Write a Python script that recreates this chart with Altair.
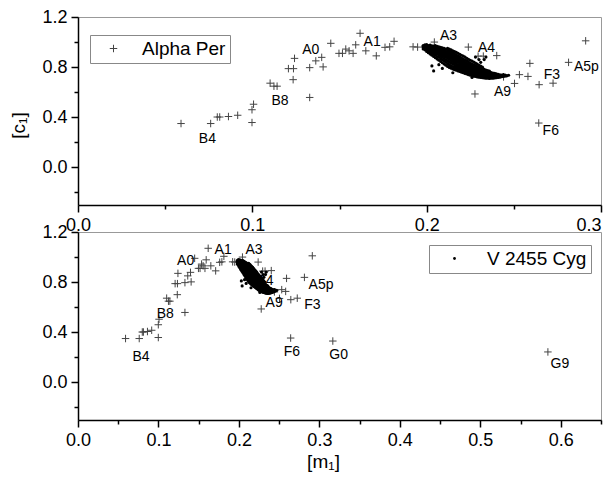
import altair as alt
import pandas as pd

# ---- Alpha Per (plus markers) ----
star_m = [0.0591, 0.0761, 0.0799, 0.0813, 0.0863, 0.0916, 0.0998, 0.0998, 0.1007, 0.1102,
          0.1124, 0.1142, 0.1207, 0.1236, 0.1242, 0.1234, 0.1329, 0.1329, 0.1364, 0.1398,
          0.1406, 0.1450, 0.1497, 0.1517, 0.1536, 0.1555, 0.1578, 0.1593, 0.1618, 0.1651,
          0.1711, 0.1761, 0.1788, 0.1813, 0.1922, 0.1948, 0.2044, 0.2239, 0.2295, 0.2325,
          0.2402, 0.2441, 0.2277, 0.2504, 0.2532, 0.2581, 0.2592, 0.2645, 0.2725, 0.2814,
          0.2912, 0.2643, 0.3167, 0.5840]
star_c = [0.350, 0.350, 0.402, 0.402, 0.406, 0.416, 0.358, 0.460, 0.504, 0.672,
          0.648, 0.648, 0.788, 0.788, 0.870, 0.700, 0.796, 0.558, 0.850, 0.878,
          0.802, 0.990, 0.910, 0.910, 0.944, 0.930, 0.910, 0.978, 1.070, 0.930,
          0.890, 0.958, 0.962, 1.006, 0.962, 0.960, 1.000, 0.960, 0.888, 0.888,
          0.892, 0.722, 0.586, 0.670, 0.740, 0.726, 0.830, 0.660, 0.672, 0.838,
          1.010, 0.354, 0.330, 0.243]

# ---- V 2455 Cyg (small dots), read column by column ----
cyg_rows = [
    (0.198, [0.945, 0.958, 0.966, 0.972]),
    (0.199, [0.938, 0.952, 0.962, 0.970, 0.978]),
    (0.200, [0.925, 0.940, 0.950, 0.958, 0.968, 0.980]),
    (0.201, [0.915, 0.932, 0.945, 0.955, 0.962, 0.972]),
    (0.202, [0.905, 0.922, 0.936, 0.948, 0.958, 0.966, 0.975]),
    (0.203, [0.895, 0.915, 0.930, 0.942, 0.952, 0.962, 0.970, 0.810]),
    (0.204, [0.770, 0.885, 0.905, 0.922, 0.936, 0.948, 0.958, 0.968]),
    (0.205, [0.875, 0.895, 0.912, 0.928, 0.940, 0.952, 0.962, 0.972]),
    (0.206, [0.865, 0.885, 0.905, 0.920, 0.934, 0.946, 0.958, 0.966]),
    (0.207, [0.855, 0.878, 0.896, 0.912, 0.926, 0.940, 0.952, 0.962, 0.820]),
    (0.208, [0.845, 0.868, 0.888, 0.904, 0.918, 0.932, 0.946, 0.958]),
    (0.209, [0.835, 0.858, 0.878, 0.896, 0.910, 0.925, 0.940, 0.954, 0.790]),
    (0.210, [0.825, 0.848, 0.868, 0.886, 0.902, 0.918, 0.934, 0.950]),
    (0.211, [0.815, 0.838, 0.858, 0.878, 0.894, 0.910, 0.926, 0.944]),
    (0.212, [0.805, 0.828, 0.850, 0.870, 0.886, 0.902, 0.918, 0.936, 0.950]),
    (0.213, [0.798, 0.820, 0.842, 0.862, 0.878, 0.894, 0.910, 0.928, 0.945]),
    (0.214, [0.792, 0.812, 0.834, 0.852, 0.870, 0.886, 0.902, 0.920, 0.938]),
    (0.215, [0.786, 0.805, 0.826, 0.845, 0.862, 0.878, 0.894, 0.912, 0.930, 0.755]),
    (0.216, [0.780, 0.798, 0.818, 0.836, 0.854, 0.870, 0.886, 0.904, 0.925]),
    (0.217, [0.775, 0.792, 0.810, 0.828, 0.846, 0.862, 0.878, 0.896, 0.918]),
    (0.218, [0.770, 0.786, 0.802, 0.820, 0.838, 0.854, 0.870, 0.888, 0.910]),
    (0.219, [0.765, 0.780, 0.796, 0.812, 0.830, 0.846, 0.862, 0.880, 0.902]),
    (0.220, [0.760, 0.774, 0.790, 0.805, 0.822, 0.838, 0.855, 0.872, 0.895]),
    (0.221, [0.755, 0.768, 0.784, 0.798, 0.814, 0.830, 0.846, 0.864, 0.888]),
    (0.222, [0.750, 0.763, 0.778, 0.792, 0.806, 0.822, 0.838, 0.856, 0.880]),
    (0.223, [0.745, 0.758, 0.772, 0.786, 0.800, 0.815, 0.830, 0.848, 0.870]),
    (0.224, [0.740, 0.753, 0.766, 0.780, 0.794, 0.808, 0.822, 0.840, 0.862]),
    (0.225, [0.736, 0.748, 0.760, 0.774, 0.788, 0.801, 0.815, 0.832, 0.855]),
    (0.226, [0.732, 0.744, 0.756, 0.768, 0.782, 0.795, 0.808, 0.824, 0.848, 0.718]),
    (0.227, [0.728, 0.740, 0.752, 0.764, 0.776, 0.789, 0.802, 0.818, 0.840]),
    (0.228, [0.725, 0.736, 0.748, 0.759, 0.771, 0.783, 0.796, 0.812, 0.832, 0.880]),
    (0.229, [0.722, 0.733, 0.744, 0.755, 0.766, 0.778, 0.790, 0.805, 0.825]),
    (0.230, [0.719, 0.730, 0.740, 0.751, 0.762, 0.773, 0.785, 0.798, 0.815, 0.860]),
    (0.231, [0.717, 0.727, 0.737, 0.747, 0.758, 0.768, 0.780, 0.792, 0.808, 0.838]),
    (0.232, [0.715, 0.725, 0.734, 0.744, 0.754, 0.764, 0.775, 0.787, 0.800]),
    (0.233, [0.713, 0.722, 0.731, 0.741, 0.750, 0.760, 0.771, 0.782, 0.860]),
    (0.234, [0.712, 0.720, 0.729, 0.738, 0.747, 0.756, 0.766, 0.777, 0.880]),
    (0.235, [0.711, 0.719, 0.727, 0.736, 0.744, 0.753, 0.762, 0.772]),
    (0.236, [0.710, 0.718, 0.726, 0.734, 0.742, 0.750, 0.759, 0.768]),
    (0.237, [0.711, 0.718, 0.725, 0.733, 0.740, 0.748, 0.756]),
    (0.238, [0.712, 0.719, 0.726, 0.732, 0.739, 0.746, 0.753]),
    (0.239, [0.714, 0.720, 0.727, 0.733, 0.739, 0.745, 0.751]),
    (0.240, [0.716, 0.722, 0.728, 0.734, 0.740, 0.746]),
    (0.241, [0.718, 0.724, 0.730, 0.736, 0.742]),
    (0.242, [0.720, 0.727, 0.733, 0.739]),
    (0.243, [0.723, 0.730, 0.736]),
    (0.244, [0.726, 0.733, 0.740]),
    (0.245, [0.729, 0.736]),
    (0.246, [0.732]),
    (0.247, [0.735]),
]
cyg_m = [m for m, cs in cyg_rows for _ in cs]
cyg_c = [c for _, cs in cyg_rows for c in cs]

# ---- spectral-type labels (position of text in each panel) ----
lab_top_text = ["B4", "B8", "A0", "A1", "A3", "A4", "A9", "F3", "A5p", "F6"]
lab_top_m = [0.0742, 0.1159, 0.1335, 0.1687, 0.2125, 0.2343, 0.2435, 0.2718, 0.2916, 0.2712]
lab_top_c = [0.230, 0.530, 0.936, 1.000, 1.050, 0.952, 0.604, 0.738, 0.802, 0.290]

lab_bot_text = ["B4", "B8", "A0", "A1", "A3", "A4", "A9", "F6", "F3", "A5p", "G0", "G9"]
lab_bot_m = [0.0784, 0.1084, 0.1338, 0.1804, 0.2188, 0.2325, 0.2438, 0.2659, 0.2913, 0.3020, 0.3240, 0.5990]
lab_bot_c = [0.202, 0.544, 0.970, 1.056, 1.056, 0.808, 0.632, 0.246, 0.620, 0.776, 0.218, 0.150]

x_ticks_top = [0.0, 0.05, 0.1, 0.15, 0.2, 0.25, 0.3]
x_ticks_bot = [0.0, 0.05, 0.1, 0.15, 0.2, 0.25, 0.3, 0.35, 0.4, 0.45, 0.5, 0.55, 0.6, 0.65]
y_ticks_major = [0.0, 0.4, 0.8, 1.2]
y_ticks_minor = [-0.2, 0.2, 0.6, 1.0]

stars = pd.DataFrame({"m": star_m, "c": star_c, "series": "Alpha Per"})
cyg = pd.DataFrame({"m": cyg_m, "c": cyg_c, "series": "V 2455 Cyg"})
lab_top = pd.DataFrame({"label": lab_top_text, "m": lab_top_m, "c": lab_top_c})
lab_bot = pd.DataFrame({"label": lab_bot_text, "m": lab_bot_m, "c": lab_bot_c})

FONT = "Liberation Sans"
PLUS = "M-1,0L1,0M0,-1L0,1"
STAR_COLOR = "#444444"
DOT_SIZE = 10
W, H = 523, 188

x_major = "round(datum.value*100) % 10 == 0"


def x_axis(vals, xmax, title=None):
    kw = dict(values=vals, labelExpr=f"({x_major}) ? format(datum.value, '.1f') : ''",
              tickSize={"condition": {"test": x_major, "value": 7}, "value": 4},
              labelAlign={"condition": {"test": f"datum.value >= {xmax - 0.001}", "value": "right"},
                          "value": "center"},
              grid=False, labelFlush=False, labelOverlap=False)
    if title:
        kw.update(title=title, titleX=245, titleY=41, titleBaseline="middle", titleAlign="center")
    else:
        kw.update(title=None)
    return alt.Axis(**kw)


def y_axis_major(title=None):
    kw = dict(values=y_ticks_major, format=".1f", tickSize=7, orient="left",
              grid=False, labelFlush=False, labelOverlap=False)
    if title:
        kw.update(title=title, titleX=-60, titleY=108, titleAngle=270,
                  titleBaseline="middle", titleAlign="center")
    else:
        kw.update(title=None)
    return alt.Axis(**kw)


def y_axis_minor():
    return alt.Axis(values=y_ticks_minor, labels=False, tickSize=4, domain=False,
                    orient="left", grid=False, title=None)


yscale = alt.Scale(domain=[-0.3, 1.2], nice=False, zero=False)

# ---------------- top panel ----------------
xs_top = alt.Scale(domain=[0, 0.3], nice=False, zero=False)
top_stars = alt.Chart(stars).mark_point(filled=False, size=56, strokeWidth=1, color=STAR_COLOR,
                                        opacity=1, clip=True).encode(
    x=alt.X("m:Q", scale=xs_top, axis=x_axis(x_ticks_top, 0.3)),
    y=alt.Y("c:Q", scale=yscale, axis=y_axis_major("[c₁]")),
    shape=alt.Shape("series:N", scale=alt.Scale(domain=["Alpha Per"], range=[PLUS]),
                    legend=alt.Legend(title=None, orient="none", legendX=12, legendY=18,
                                      strokeColor="#888888", padding=4,
                                      labelFont=FONT, labelFontSize=19, labelColor="black",
                                      symbolOffset=10, labelOffset=19, symbolSize=56,
                                      symbolStrokeColor=STAR_COLOR, symbolStrokeWidth=1,
                                      symbolFillColor="transparent")),
)
top_dots = alt.Chart(cyg).mark_circle(size=DOT_SIZE, color="black", opacity=1, clip=True).encode(
    x="m:Q", y=alt.Y("c:Q", axis=y_axis_minor()))
top_text = alt.Chart(lab_top).mark_text(font=FONT, fontSize=14, color="black").encode(
    x="m:Q", y=alt.Y("c:Q", axis=None), text="label:N")
top = alt.layer(top_stars, top_dots, top_text).resolve_axis(y="independent").properties(
    width=W, height=H)

# ---------------- bottom panel ----------------
xs_bot = alt.Scale(domain=[0, 0.65], nice=False, zero=False)
bot_stars = alt.Chart(stars).mark_point(shape=PLUS, filled=False, size=56, strokeWidth=1,
                                        color=STAR_COLOR, opacity=1, clip=True).encode(
    x=alt.X("m:Q", scale=xs_bot, axis=x_axis(x_ticks_bot, 0.7, "[m₁]")),
    y=alt.Y("c:Q", scale=yscale, axis=y_axis_major()),
)
bot_dots = alt.Chart(cyg).mark_point(filled=True, size=DOT_SIZE, color="black", opacity=1,
                                     clip=True).encode(
    x="m:Q", y=alt.Y("c:Q", axis=y_axis_minor()),
    shape=alt.Shape("series:N", scale=alt.Scale(domain=["V 2455 Cyg"], range=["circle"]),
                    legend=alt.Legend(title=None, orient="none", legendX=351, legendY=13,
                                      strokeColor="#888888", padding=4,
                                      labelFont=FONT, labelFontSize=19, labelColor="black",
                                      symbolOffset=12, labelOffset=23, symbolSize=8,
                                      symbolFillColor="black", symbolStrokeColor="black")),
)
bot_text = alt.Chart(lab_bot).mark_text(font=FONT, fontSize=14, color="black").encode(
    x="m:Q", y=alt.Y("c:Q", axis=None), text="label:N")
bottom = alt.layer(bot_stars, bot_dots, bot_text).resolve_axis(y="independent").properties(
    width=W, height=H)

chart = alt.vconcat(top, bottom, spacing=27, bounds="flush").resolve_scale(
    x="independent", y="independent", shape="independent"
).properties(
    padding={"left": 0, "top": -1, "right": 0, "bottom": 0}
).configure(background="white").configure_view(
    stroke="#999999", strokeWidth=1
).configure_axis(
    domainColor="black", domainWidth=1.5, tickColor="black", tickWidth=1.5,
    labelFont=FONT, labelFontSize=18, labelColor="black", labelPadding=4,
    titleFont=FONT, titleFontSize=19, titleFontWeight="normal", titleColor="black",
)

chart.save("out.html", embed_options={"renderer": "svg", "actions": False})
